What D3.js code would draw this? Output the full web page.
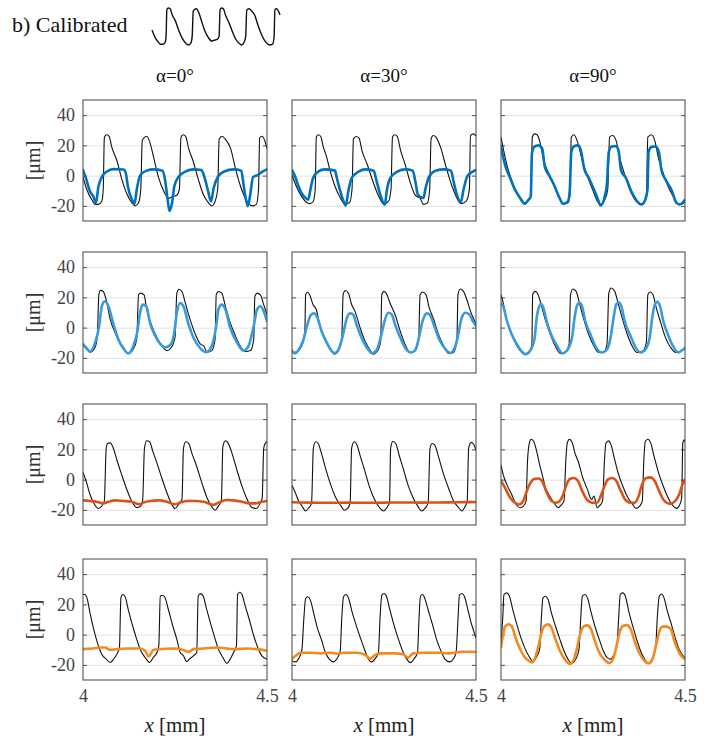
<!DOCTYPE html>
<html><head><meta charset="utf-8">
<script src="https://cdn.jsdelivr.net/npm/d3@7"></script>
<style>body{margin:0;background:#fff}svg{display:block}</style>
</head><body><svg id="c" width="712" height="740"></svg>
<script>
// ---------- data (x in mm, profile height in µm) ----------
const xDomain = [4, 4.5];
const yDomain = [-30, 50];
const yTicks = [-20, 0, 20, 40];
const xTicks = [4, 4.5];
const xTickLabels = ["4", "4.5"];
const colTitles = ["α=0°", "α=30°", "α=90°"];
const seriesColors = ["#0072BD", "#3A9BDC", "#D95319", "#F28A22"];

const ref_r1c1 = [[4.000,-1],[4.010,-9],[4.024,-16],[4.033,-19],[4.042,-19],[4.051,-17],[4.055,-9],[4.058,25],[4.064,27],[4.071,26],[4.078,19],[4.092,10],[4.105,-2],[4.119,-12],[4.133,-18],[4.142,-20],[4.151,-18],[4.157,-9],[4.161,23],[4.166,25],[4.173,26],[4.183,21],[4.192,12],[4.205,-1],[4.219,-10],[4.233,-15],[4.242,-14],[4.255,-13],[4.262,-9],[4.266,25],[4.272,27],[4.279,26],[4.287,18],[4.300,9],[4.314,-3],[4.328,-13],[4.341,-18],[4.350,-20],[4.359,-17],[4.366,-9],[4.370,24],[4.378,26],[4.387,24],[4.401,18],[4.414,5],[4.428,-7],[4.446,-17],[4.460,-20],[4.471,-19],[4.477,-9],[4.480,25],[4.487,26],[4.494,23],[4.500,18]];
const cal_r1c1 = [[4.000,3.7],[4.008,-1.7],[4.019,-10.4],[4.028,-13.7],[4.035,-18],[4.042,-7.2],[4.051,-1],[4.064,2.6],[4.083,4.3],[4.110,4.1],[4.116,2],[4.122,-7.2],[4.133,-15.9],[4.140,-18.5],[4.146,-9.3],[4.155,0],[4.173,3.3],[4.192,4.1],[4.216,3.3],[4.223,-2.8],[4.230,-15.9],[4.235,-23.5],[4.242,-18],[4.248,-7.2],[4.260,-0.7],[4.278,2.6],[4.301,4.1],[4.322,3.7],[4.330,-1],[4.339,-9.3],[4.348,-17],[4.355,-8.3],[4.366,-1],[4.382,2.6],[4.410,4.1],[4.430,3.3],[4.437,-7.2],[4.442,-14.8],[4.448,-20.2],[4.455,-11.5],[4.462,-1],[4.475,0.4],[4.488,2.6],[4.500,4.1]];
const ref_r1c2 = [[4.000,0.4],[4.012,-7.2],[4.026,-13.7],[4.039,-17.6],[4.048,-18.5],[4.057,-17.4],[4.063,-9.3],[4.066,25.4],[4.071,27],[4.078,26],[4.085,19],[4.094,12.4],[4.103,3.7],[4.117,-7.2],[4.130,-14.1],[4.144,-18.7],[4.156,-18],[4.163,-9.3],[4.167,24.3],[4.174,25.9],[4.182,25],[4.190,16.7],[4.205,7],[4.220,-3.9],[4.235,-13.3],[4.249,-18.7],[4.262,-17],[4.269,-9.3],[4.273,25.4],[4.278,27],[4.286,26],[4.295,16.7],[4.308,7],[4.322,-5],[4.336,-13.3],[4.348,-14.8],[4.357,-19],[4.368,-18],[4.374,-9.3],[4.378,24.3],[4.384,26.5],[4.391,25.4],[4.404,18.5],[4.418,6.3],[4.432,-5],[4.445,-13.3],[4.459,-18.5],[4.473,-17],[4.482,-9.3],[4.485,26.5],[4.493,27.6],[4.500,26]];
const cal_r1c2 = [[4.000,3.7],[4.007,0.4],[4.016,-6],[4.026,-11.5],[4.037,-14.8],[4.044,-15.9],[4.050,-9.3],[4.057,-1.7],[4.071,2.6],[4.089,4.1],[4.117,3.3],[4.121,-0.7],[4.130,-9.3],[4.140,-17],[4.146,-19.8],[4.153,-10.4],[4.162,-1.7],[4.181,2.6],[4.199,4.1],[4.222,3.3],[4.229,-2.8],[4.240,-12.6],[4.252,-19.3],[4.258,-9.3],[4.267,-1.7],[4.286,2.6],[4.308,4.1],[4.328,3.3],[4.336,-5],[4.342,-12.6],[4.349,-14.1],[4.357,-14.8],[4.363,-8.3],[4.372,-1],[4.390,3.3],[4.413,4.1],[4.432,3.3],[4.439,-3.9],[4.448,-12.6],[4.459,-17.6],[4.466,-9.3],[4.477,-0.2],[4.491,2.6],[4.500,3.7]];
const ref_r1c3 = [[4.000,25.4],[4.006,18],[4.016,7],[4.029,-3],[4.043,-11.5],[4.057,-17],[4.066,-18.7],[4.075,-15.9],[4.081,-13.7],[4.085,25.4],[4.091,27.6],[4.098,27],[4.105,23],[4.116,10],[4.130,1.5],[4.144,-6],[4.157,-13.7],[4.171,-18.7],[4.182,-18],[4.187,-13.7],[4.191,25.4],[4.198,27],[4.207,23],[4.221,10],[4.235,-0.7],[4.249,-9.3],[4.262,-17],[4.271,-19],[4.282,-15.9],[4.290,-9.3],[4.295,25.4],[4.303,26.5],[4.313,23],[4.322,12.4],[4.335,1.5],[4.354,-11.5],[4.372,-18],[4.386,-18.7],[4.395,-13.7],[4.399,25.4],[4.409,27],[4.418,23],[4.427,12.4],[4.441,1.5],[4.454,-7.2],[4.468,-13.7],[4.482,-19],[4.491,-19],[4.500,-17]];
const cal_r1c3 = [[4.000,19.3],[4.011,7],[4.025,-1.7],[4.038,-9.3],[4.052,-14.8],[4.064,-18.5],[4.075,-15.9],[4.081,-13.7],[4.084,14.6],[4.090,19],[4.102,20],[4.112,17.8],[4.119,5.9],[4.130,0.4],[4.144,-6],[4.157,-13.7],[4.169,-18.7],[4.182,-17],[4.187,-9.3],[4.191,15.7],[4.198,19.3],[4.209,20],[4.217,16.7],[4.226,4.8],[4.239,-1.7],[4.253,-9.3],[4.262,-14.8],[4.271,-19.8],[4.282,-13.7],[4.288,-5],[4.293,15.7],[4.301,19.3],[4.313,19.6],[4.320,15.7],[4.326,3.7],[4.340,-1.7],[4.354,-10.4],[4.367,-15.9],[4.381,-19.1],[4.392,-15.9],[4.398,-9.3],[4.401,15.7],[4.409,19],[4.420,19.3],[4.429,15.7],[4.436,3.7],[4.450,-3.9],[4.463,-9.3],[4.477,-18],[4.486,-19],[4.500,-15.9]];

const ref_r2c1 = [[4.000,-10.9],[4.010,-13],[4.019,-16.3],[4.033,-13],[4.039,-5.4],[4.043,21.7],[4.048,24.6],[4.055,23.9],[4.063,18.5],[4.074,5.4],[4.087,-3.3],[4.101,-10.9],[4.114,-15.2],[4.123,-17],[4.137,-14.1],[4.146,-7.6],[4.151,21.7],[4.157,22.8],[4.166,21.7],[4.173,12],[4.187,1.1],[4.201,-6.5],[4.214,-12],[4.228,-15.2],[4.237,-14.1],[4.250,-6.5],[4.255,22.8],[4.261,25.4],[4.269,23.9],[4.278,16.3],[4.291,5.4],[4.305,-4.3],[4.319,-10.9],[4.328,-12],[4.337,-16.3],[4.350,-15.2],[4.359,-7.6],[4.362,21.7],[4.368,23.9],[4.377,22.8],[4.387,14.1],[4.400,3.3],[4.414,-5.4],[4.427,-12],[4.441,-15.9],[4.455,-15.2],[4.464,-7.6],[4.467,20.7],[4.473,22.8],[4.482,21.7],[4.491,15.2],[4.500,8.7]];
const cal_r2c1 = [[4.000,-10.9],[4.015,-15.2],[4.019,-15.9],[4.033,-9.8],[4.044,1.1],[4.051,14.1],[4.060,17.4],[4.069,14.1],[4.083,2.2],[4.096,-7.6],[4.110,-13.7],[4.123,-17],[4.137,-12],[4.148,-2.2],[4.155,9.8],[4.162,15.2],[4.172,14.1],[4.182,3.3],[4.196,-5.4],[4.210,-10.9],[4.223,-13],[4.237,-11.5],[4.248,-3.3],[4.255,9.8],[4.264,16.3],[4.273,14.1],[4.287,2.2],[4.300,-6.5],[4.319,-13.7],[4.335,-16.3],[4.350,-12],[4.362,1.1],[4.368,12],[4.377,15.2],[4.387,12],[4.400,0],[4.418,-9.8],[4.436,-15.2],[4.450,-12],[4.464,1.1],[4.473,12],[4.482,14.1],[4.491,10.9],[4.500,4.3]];
const ref_r2c2 = [[4.000,-14.8],[4.007,-16.4],[4.021,-14.2],[4.030,-9.8],[4.035,-2.2],[4.037,21.8],[4.042,23.4],[4.048,21.8],[4.057,15.3],[4.066,12],[4.075,2.2],[4.089,-6.6],[4.103,-13.1],[4.116,-17.5],[4.127,-14.8],[4.135,-8.7],[4.139,21.8],[4.145,24.5],[4.153,22.9],[4.162,15.3],[4.171,10.9],[4.185,0],[4.198,-8.7],[4.212,-14.8],[4.221,-17.5],[4.233,-15.3],[4.241,-8.7],[4.244,21.8],[4.250,24],[4.257,22.3],[4.266,16.4],[4.280,8.7],[4.294,-2.2],[4.307,-10.9],[4.321,-16.4],[4.333,-15.7],[4.344,-8.7],[4.348,21.8],[4.355,23.6],[4.364,21.8],[4.373,13.1],[4.385,5.5],[4.398,-4.4],[4.412,-12],[4.425,-17],[4.439,-16.4],[4.448,-8.7],[4.451,21.8],[4.457,25.5],[4.466,24],[4.475,18.6],[4.485,10.9],[4.494,5.5],[4.500,2.2]];
const cal_r2c2 = [[4.000,-15.3],[4.007,-17],[4.018,-14.8],[4.030,-8.7],[4.042,2.2],[4.051,8.3],[4.060,9.4],[4.069,6.6],[4.080,-2.2],[4.094,-9.8],[4.107,-15.3],[4.116,-16.8],[4.127,-14.2],[4.139,-4.4],[4.148,5.5],[4.157,9.4],[4.166,8.7],[4.175,2.2],[4.189,-6.6],[4.203,-13.1],[4.218,-17],[4.230,-14.8],[4.242,-5.5],[4.253,5.5],[4.262,9.8],[4.271,8.7],[4.280,2.2],[4.294,-6.6],[4.307,-13.1],[4.324,-16.4],[4.335,-14.8],[4.344,-7.6],[4.355,4.4],[4.366,9.4],[4.375,8.3],[4.385,2.2],[4.398,-6.6],[4.412,-12.7],[4.430,-16.8],[4.442,-13.5],[4.451,-5.5],[4.460,5.5],[4.471,9.8],[4.482,8.7],[4.491,4.4],[4.500,1.1]];
const ref_r2c3 = [[4.000,21.8],[4.006,16.4],[4.015,5.5],[4.029,-4.4],[4.043,-12],[4.056,-16.4],[4.065,-17.9],[4.077,-16.4],[4.084,-10.9],[4.086,21.8],[4.093,24],[4.100,22.3],[4.109,15.3],[4.120,5.5],[4.134,-4.4],[4.147,-12],[4.161,-17],[4.173,-16.4],[4.185,-10.9],[4.189,21.8],[4.195,25.5],[4.204,24],[4.213,16.4],[4.225,5.5],[4.238,-4.4],[4.252,-12],[4.265,-16.4],[4.279,-16.4],[4.288,-10.9],[4.293,22.9],[4.300,26.2],[4.309,24],[4.318,16.4],[4.329,6.6],[4.343,-4.4],[4.356,-12],[4.370,-16.4],[4.385,-15.7],[4.395,-9.8],[4.399,21.8],[4.405,23.6],[4.413,21.8],[4.422,13.1],[4.434,3.3],[4.447,-6.6],[4.461,-13.1],[4.475,-16.4],[4.488,-15.7],[4.500,-13.5]];
const cal_r2c3 = [[4.000,15.7],[4.006,14.2],[4.015,5.5],[4.029,-4.4],[4.043,-10.9],[4.056,-15.7],[4.067,-17.5],[4.079,-15.3],[4.091,-7.6],[4.097,6.6],[4.104,14.2],[4.109,15.7],[4.115,13.1],[4.125,3.3],[4.138,-5.5],[4.152,-12],[4.167,-17],[4.179,-15.3],[4.193,-6.6],[4.200,6.6],[4.206,14.2],[4.213,16.4],[4.220,14.2],[4.229,4.4],[4.243,-4.4],[4.256,-12],[4.273,-16.4],[4.285,-15.3],[4.297,-7.6],[4.306,6.6],[4.313,15.3],[4.320,16.8],[4.327,14.2],[4.336,4.4],[4.352,-5.5],[4.365,-12.7],[4.379,-16.4],[4.393,-14.2],[4.404,-6.6],[4.411,6.6],[4.418,15.3],[4.425,17],[4.432,14.2],[4.441,4.4],[4.455,-5.5],[4.467,-12],[4.482,-16.4],[4.493,-14.8],[4.500,-13.5]];

const ref_r3c1 = [[4.000,5],[4.010,-2.2],[4.019,-9.8],[4.031,-16.3],[4.042,-19.1],[4.051,-17.4],[4.058,-14.1],[4.063,20.7],[4.067,23.9],[4.074,24.3],[4.081,21.7],[4.092,13],[4.105,3.3],[4.119,-6.5],[4.132,-14.1],[4.146,-18.5],[4.155,-18],[4.162,-14.1],[4.167,20.7],[4.173,25.7],[4.181,25],[4.190,18.5],[4.201,10.9],[4.214,1.1],[4.228,-8.7],[4.241,-16.3],[4.250,-19.1],[4.260,-16.3],[4.269,-13],[4.273,20.7],[4.279,25],[4.287,23.9],[4.296,17.4],[4.309,8.7],[4.323,-2.2],[4.337,-12],[4.350,-18],[4.359,-20.2],[4.368,-17.4],[4.376,-14.1],[4.380,21.7],[4.387,25.7],[4.394,24.3],[4.405,17.4],[4.418,6.5],[4.432,-4.3],[4.446,-13],[4.459,-18.5],[4.471,-19.1],[4.482,-15.2],[4.487,-12],[4.491,20.7],[4.495,23.9],[4.500,25]];
const cal_r3c1 = [[4.000,-13.7],[4.019,-14.1],[4.037,-14.6],[4.055,-15.7],[4.069,-14.6],[4.087,-13.7],[4.110,-14.1],[4.132,-14.6],[4.153,-16.3],[4.164,-15.2],[4.182,-14.1],[4.205,-13.7],[4.228,-14.6],[4.250,-16.3],[4.264,-15.2],[4.282,-14.1],[4.305,-14.1],[4.328,-14.6],[4.355,-16.7],[4.368,-15.2],[4.391,-13.5],[4.409,-13.7],[4.432,-14.6],[4.453,-15.7],[4.468,-15.7],[4.486,-14.6],[4.500,-14.1]];
const ref_r3c2 = [[4.000,-3.7],[4.009,-8.7],[4.018,-14.1],[4.027,-17.4],[4.037,-20.7],[4.046,-18.5],[4.053,-15.9],[4.058,20.7],[4.064,25],[4.071,23.9],[4.080,17.4],[4.091,7.6],[4.105,-3.3],[4.119,-12],[4.133,-17.4],[4.142,-20.2],[4.153,-18.5],[4.158,-15.2],[4.162,20.7],[4.169,25],[4.176,23.3],[4.186,15.2],[4.197,6.5],[4.210,-4.3],[4.224,-13],[4.238,-18.5],[4.249,-20.7],[4.259,-18],[4.265,-15.2],[4.268,20.7],[4.274,25.4],[4.282,23.9],[4.291,16.3],[4.302,7.6],[4.315,-3.3],[4.329,-12],[4.343,-18],[4.352,-20.7],[4.363,-18.5],[4.370,-15.2],[4.375,20.7],[4.381,23.9],[4.388,22.8],[4.398,15.2],[4.411,4.3],[4.425,-5.4],[4.439,-14.1],[4.451,-18],[4.462,-20.7],[4.471,-17.4],[4.476,-14.6],[4.480,20.7],[4.487,24.6],[4.495,22.8],[4.500,19.6]];
const cal_r3c2 = [[4.000,-15.0],[4.050,-15.2],[4.100,-15.3],[4.150,-15.2],[4.200,-15.3],[4.250,-15.2],[4.300,-15.1],[4.350,-15.2],[4.400,-15.1],[4.450,-15.0],[4.500,-14.8]];
const ref_r3c3 = [[4.000,9.8],[4.006,3.3],[4.016,-3.3],[4.029,-9.8],[4.041,-16.4],[4.052,-18.6],[4.061,-17.5],[4.068,-14.2],[4.072,12],[4.077,24.1],[4.082,26.7],[4.089,25.2],[4.096,19.7],[4.105,9.8],[4.112,3.3],[4.121,-5.5],[4.130,-9.8],[4.144,-15.3],[4.155,-18.6],[4.165,-16.4],[4.171,-14.2],[4.176,12],[4.180,24.1],[4.186,26.7],[4.194,24.1],[4.201,17.5],[4.210,12],[4.221,2.2],[4.235,-6.6],[4.246,-13.1],[4.253,-10.9],[4.261,-18.6],[4.267,-17.5],[4.276,-14.2],[4.281,12],[4.285,24.1],[4.292,25.6],[4.299,23],[4.308,14.2],[4.317,5.5],[4.331,-4.4],[4.345,-12],[4.358,-16.4],[4.367,-19],[4.377,-17.5],[4.384,-14.2],[4.388,12],[4.392,25.2],[4.399,26.7],[4.407,24.1],[4.416,15.3],[4.427,5.5],[4.441,-4.4],[4.454,-12],[4.468,-17.5],[4.477,-19],[4.486,-16.4],[4.491,-12],[4.494,24.1],[4.498,26.3],[4.500,25.2]];
const cal_r3c3 = [[4.000,-0.7],[4.011,-5.5],[4.025,-12],[4.038,-15.3],[4.050,-16.4],[4.061,-13.8],[4.070,-7.7],[4.080,-2.2],[4.090,0.4],[4.102,0.7],[4.112,-1.1],[4.121,-6.6],[4.134,-13.1],[4.148,-15.3],[4.157,-14.7],[4.169,-9.8],[4.178,-3.3],[4.187,0.4],[4.198,1.1],[4.209,-0.7],[4.219,-6.6],[4.233,-13.1],[4.249,-15.3],[4.261,-15.3],[4.271,-10.9],[4.281,-4.4],[4.290,0],[4.302,1.1],[4.313,-0.7],[4.324,-6.6],[4.337,-13.1],[4.352,-15.3],[4.363,-15.3],[4.374,-10.9],[4.383,-3.3],[4.395,1.1],[4.407,1.5],[4.418,-1.1],[4.430,-7.7],[4.443,-13.8],[4.459,-16],[4.471,-14.7],[4.484,-9.8],[4.493,-3.3],[4.500,0]];

const ref_r4c1 = [[4.000,26.5],[4.005,26.5],[4.012,23.2],[4.019,14.4],[4.028,4.6],[4.039,-5.3],[4.051,-12.9],[4.063,-16.2],[4.074,-18.4],[4.083,-16.2],[4.092,-12.9],[4.099,-8.5],[4.103,24.3],[4.108,26.5],[4.114,25.4],[4.123,16.6],[4.135,5.7],[4.146,-3.1],[4.157,-10.7],[4.169,-15.1],[4.181,-18.4],[4.191,-15.1],[4.201,-11.8],[4.206,-7.4],[4.210,25.4],[4.216,26],[4.223,24.3],[4.232,16.6],[4.244,5.7],[4.255,-3.1],[4.264,-11.8],[4.273,-14],[4.282,-17.9],[4.289,-16.2],[4.300,-14],[4.309,-11.8],[4.313,25.4],[4.319,27.1],[4.326,25.8],[4.335,17.7],[4.346,7.9],[4.358,-2],[4.368,-9.6],[4.380,-15.1],[4.391,-19],[4.400,-16.2],[4.409,-11.8],[4.417,-7.4],[4.420,26.5],[4.426,28],[4.432,26.5],[4.441,18.8],[4.453,9],[4.464,-0.9],[4.475,-8.5],[4.486,-14],[4.500,-16.2]];
const cal_r4c1 = [[4.000,-9.6],[4.028,-9.2],[4.046,-8.5],[4.060,-8.5],[4.074,-10.1],[4.092,-9.6],[4.119,-9.2],[4.155,-9.2],[4.169,-10.7],[4.178,-14.4],[4.182,-13.6],[4.191,-10.1],[4.210,-9.6],[4.246,-9.2],[4.273,-10.1],[4.287,-11.4],[4.300,-9.6],[4.328,-9.2],[4.364,-8.5],[4.391,-9.2],[4.409,-9.6],[4.446,-9.2],[4.473,-9.6],[4.500,-10.7]];
const ref_r4c2 = [[4.000,-17.4],[4.009,-18],[4.018,-15.9],[4.027,-9.8],[4.032,9.8],[4.037,23.9],[4.043,25],[4.050,22.8],[4.059,14.1],[4.069,4.3],[4.080,-3.3],[4.091,-12],[4.102,-16.3],[4.112,-18],[4.122,-15.9],[4.131,-10.9],[4.135,9.8],[4.140,25],[4.146,26.5],[4.154,23.9],[4.163,15.2],[4.174,6.5],[4.186,-2.2],[4.197,-9.8],[4.207,-15.9],[4.217,-18],[4.226,-15.9],[4.235,-11.5],[4.239,9.8],[4.244,26.1],[4.250,27.2],[4.257,25],[4.265,17.4],[4.277,6.5],[4.288,-2.2],[4.299,-9.8],[4.311,-15.9],[4.322,-18.5],[4.332,-15.9],[4.341,-12],[4.345,9.8],[4.349,25.4],[4.355,26.5],[4.361,23.9],[4.370,16.3],[4.382,6.5],[4.393,-3.3],[4.405,-10.9],[4.416,-16.3],[4.428,-18],[4.439,-15.9],[4.446,-11.5],[4.451,9.8],[4.455,26.1],[4.462,27.2],[4.469,25],[4.478,16.3],[4.487,7.6],[4.494,2.2],[4.500,-2.2]];
const cal_r4c2 = [[4.000,-15.9],[4.009,-14.1],[4.023,-12],[4.050,-12],[4.078,-12.4],[4.105,-12],[4.123,-12.6],[4.142,-12],[4.178,-12],[4.201,-13.7],[4.213,-15.9],[4.224,-13.7],[4.242,-12.4],[4.279,-12.4],[4.302,-13],[4.315,-15.2],[4.329,-12.4],[4.361,-12],[4.398,-12],[4.425,-12.4],[4.443,-12],[4.462,-11.3],[4.480,-11.3],[4.500,-11.5]];
const ref_r4c3 = [[4.000,-7.4],[4.005,12.3],[4.008,26.5],[4.016,27.6],[4.023,25.4],[4.032,16.6],[4.043,6.8],[4.054,-2],[4.066,-9.6],[4.078,-15.1],[4.087,-17.9],[4.096,-15.1],[4.105,-9.6],[4.110,12.3],[4.114,24.3],[4.121,25.4],[4.128,23.2],[4.137,14.4],[4.148,5.7],[4.160,-3.1],[4.171,-10.7],[4.182,-16.2],[4.192,-19],[4.203,-16.2],[4.212,-9.6],[4.217,12.3],[4.221,25.4],[4.228,26.5],[4.235,24.3],[4.244,15.5],[4.255,5.7],[4.267,-3.1],[4.278,-10.7],[4.288,-15.1],[4.297,-16.2],[4.306,-13.6],[4.315,-7.4],[4.320,12.3],[4.324,26.5],[4.331,27.6],[4.338,25.4],[4.347,15.5],[4.358,5.7],[4.370,-4.2],[4.381,-11.8],[4.392,-16.8],[4.401,-19],[4.410,-16.2],[4.420,-9.6],[4.425,12.3],[4.430,25.4],[4.436,26.9],[4.443,24.3],[4.452,15.5],[4.463,6.8],[4.474,-2.6],[4.486,-10.7],[4.495,-14],[4.500,-15.1]];
const cal_r4c3 = [[4.000,-8.5],[4.005,-0.9],[4.011,5.3],[4.020,6.8],[4.029,5.7],[4.038,-0.9],[4.050,-8.5],[4.063,-14.4],[4.075,-17.3],[4.084,-18.4],[4.093,-15.1],[4.102,-7.4],[4.110,1.3],[4.118,5.7],[4.128,6.8],[4.137,4.6],[4.148,-3.1],[4.160,-10.7],[4.173,-16.2],[4.187,-19.5],[4.198,-16.2],[4.207,-8.5],[4.215,0.2],[4.224,5.3],[4.235,6.1],[4.244,3.9],[4.255,-4.2],[4.267,-11.8],[4.281,-16.6],[4.294,-18.8],[4.306,-15.1],[4.315,-6.3],[4.322,1.3],[4.331,5.7],[4.342,6.3],[4.352,3.9],[4.363,-4.2],[4.375,-11.8],[4.388,-16.8],[4.402,-19],[4.413,-15.1],[4.422,-6.3],[4.430,1.8],[4.438,5.3],[4.450,5.3],[4.462,3.5],[4.471,-4.2],[4.482,-10.7],[4.491,-14.4],[4.500,-16.2]];

// icon next to the title reuses the first reference profile
const iconProfile = ref_r1c1;

const panelData = [
  [[ref_r1c1, cal_r1c1], [ref_r1c2, cal_r1c2], [ref_r1c3, cal_r1c3]],
  [[ref_r2c1, cal_r2c1], [ref_r2c2, cal_r2c2], [ref_r2c3, cal_r2c3]],
  [[ref_r3c1, cal_r3c1], [ref_r3c2, cal_r3c2], [ref_r3c3, cal_r3c3]],
  [[ref_r4c1, cal_r4c1], [ref_r4c2, cal_r4c2], [ref_r4c3, cal_r4c3]]
];

const FONT = '"Liberation Serif"';
(function () {
  const cx = document.createElement("canvas").getContext("2d");
  [18, 19, 20, 21, 22].forEach(s => {
    cx.font = s + "px " + FONT; cx.measureText("b) Calibrated 40 -20 4.5 [μm] α=0° x [mm]");
    cx.font = "italic " + s + "px " + FONT; cx.measureText("x");
  });
})();

// ---------- layout ----------
const colLeft = [83, 292, 501];
const rowTop = [100, 252, 404, 559];
const PW = 184, PH = 121;

const svg = d3.select("#c");

function txt(sel, size, fill) {
  return sel.style("font-family", FONT).style("font-size", size + "px").attr("fill", fill);
}

txt(svg.append("text").attr("x", 12).attr("y", 32), 22, "#111").text("b) Calibrated");

const ix = d3.scaleLinear().domain(xDomain).range([152, 280]);
const iy = d3.scaleLinear().domain([-20, 27]).range([45, 8]);
svg.append("path").datum(iconProfile)
  .attr("fill", "none").attr("stroke", "#111").attr("stroke-width", 1.4)
  .attr("d", d3.line().x(d => ix(d[0])).y(d => iy(d[1])).curve(d3.curveMonotoneX));

colTitles.forEach((t, c) => {
  txt(svg.append("text").attr("x", colLeft[c] + PW / 2).attr("y", 82)
    .attr("text-anchor", "middle"), 19, "#111").text(t);
});

const x = d3.scaleLinear().domain(xDomain).range([0, PW]);
const y = d3.scaleLinear().domain(yDomain).range([PH, 0]);
const line = d3.line().x(d => x(d[0])).y(d => y(d[1])).curve(d3.curveMonotoneX);

const defs = svg.append("defs");
defs.append("clipPath").attr("id", "clipP").append("rect")
  .attr("x", 0).attr("y", 0).attr("width", PW).attr("height", PH);

panelData.forEach((row, r) => {
  row.forEach((pair, c) => {
    const g = svg.append("g").attr("transform", `translate(${colLeft[c]},${rowTop[r]})`);
    const grid = g.append("g").call(d3.axisLeft(y).tickValues(yTicks).tickSize(-PW).tickFormat(""));
    grid.select(".domain").remove();
    grid.selectAll("line").attr("stroke", "#e3e3e3").attr("stroke-width", 1);
    const tl = g.append("g").call(d3.axisLeft(y).tickValues(yTicks).tickSize(-4).tickFormat(""));
    tl.select(".domain").remove();
    tl.selectAll("line").attr("stroke", "#555");
    const tr = g.append("g").attr("transform", `translate(${PW},0)`)
      .call(d3.axisRight(y).tickValues(yTicks).tickSize(-4).tickFormat(""));
    tr.select(".domain").remove();
    tr.selectAll("line").attr("stroke", "#555");

    const clip = g.append("g").attr("clip-path", "url(#clipP)");
    clip.append("path").datum(pair[0]).attr("fill", "none")
      .attr("stroke", "#111").attr("stroke-width", 1.1).attr("stroke-linejoin", "round")
      .attr("d", line);
    clip.append("path").datum(pair[1]).attr("fill", "none")
      .attr("stroke", seriesColors[r]).attr("stroke-width", 2.6).attr("stroke-linejoin", "round")
      .attr("stroke-linecap", "round")
      .attr("d", line);

    g.append("rect").attr("x", 0).attr("y", 0).attr("width", PW).attr("height", PH)
      .attr("fill", "none").attr("stroke", "#444").attr("stroke-width", 1);

    if (c === 0) {
      const ya = g.append("g").call(d3.axisLeft(y).tickValues(yTicks).tickSize(0).tickPadding(8)
        .tickFormat(d => String(d)));
      ya.attr("font-family", null).attr("font-size", null);
      ya.select(".domain").remove();
      txt(ya.selectAll("text"), 18, "#444");
      txt(g.append("text").attr("transform", `translate(-43,${PH / 2}) rotate(-90)`)
        .attr("text-anchor", "middle"), 20, "#333").text("[μm]");
    }
    if (r === 3) {
      const xa = g.append("g").attr("transform", `translate(0,${PH})`)
        .call(d3.axisBottom(x).tickValues(xTicks).tickSize(0).tickPadding(9)
          .tickFormat((d, i) => xTickLabels[i]));
      xa.attr("font-family", null).attr("font-size", null);
      xa.select(".domain").remove();
      txt(xa.selectAll("text"), 18, "#444");
      const lab = txt(g.append("text").attr("x", PW / 2).attr("y", PH + 52)
        .attr("text-anchor", "middle"), 21, "#222");
      lab.append("tspan").style("font-style", "italic").text("x");
      lab.append("tspan").text(" [mm]");
    }
  });
});
</script></body></html>
